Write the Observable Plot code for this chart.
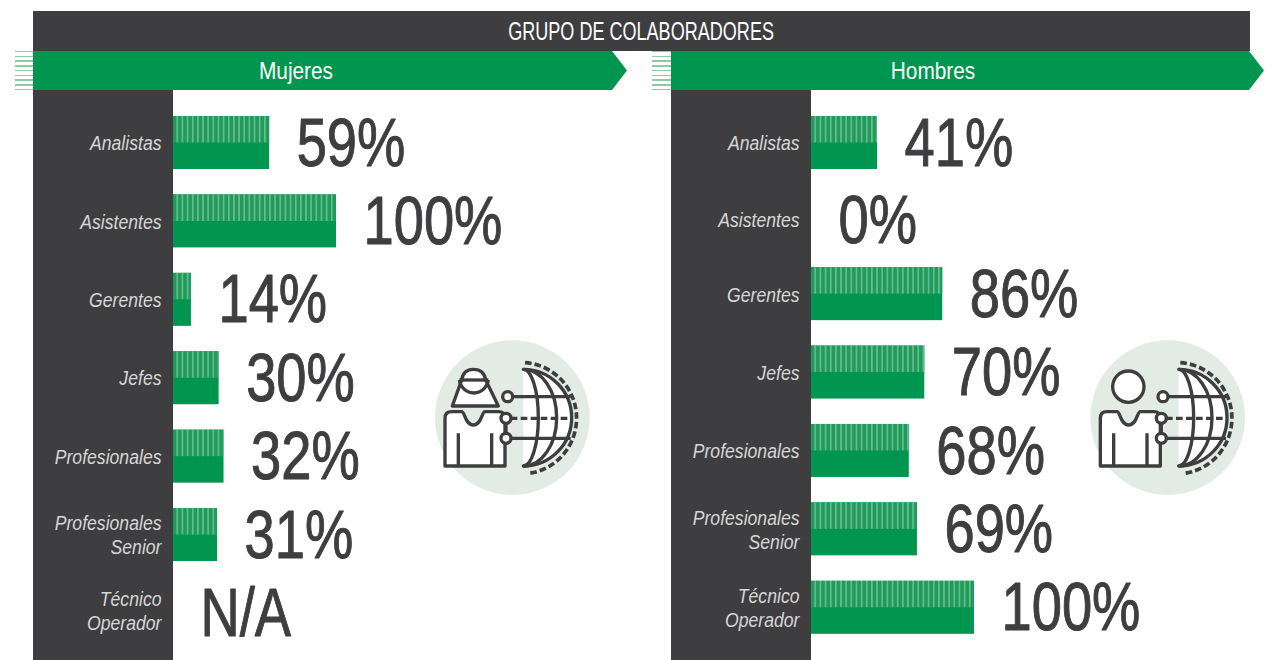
<!DOCTYPE html>
<html lang="es">
<head>
<meta charset="utf-8">
<script src="https://cdn.jsdelivr.net/npm/d3@7"></script>
<script src="https://cdn.jsdelivr.net/npm/@observablehq/plot@0.6"></script>
<style>
  html,body{margin:0;padding:0;background:#fff;}
  #page{position:relative;width:1276px;height:660px;overflow:hidden;font-family:"Liberation Sans",sans-serif;}
  .abs{position:absolute;}
  .dark{background:#3e3d3f;}
  .title{left:33px;top:11px;width:1217px;height:40px;color:#fff;font-size:25px;line-height:40px;text-align:center;}
  .title span{display:inline-block;transform:scaleX(.722);margin-left:-1px;white-space:nowrap;}
  .banner{top:51px;height:39px;background:#00964f;color:#fff;font-size:24.5px;line-height:40px;clip-path:polygon(0 0,calc(100% - 15px) 0,100% 50%,calc(100% - 15px) 100%,0 100%);}
  .banner span{position:absolute;transform:translateX(-50%) scaleX(.85);}
  .ticks{top:51px;width:19px;height:39px;background:repeating-linear-gradient(to bottom,#8fc9a6 0,#8fc9a6 1.5px,#fff 1.5px,#fff 4.75px);}
  .side{top:90px;width:140px;height:570px;}
  .plot{top:0;}
</style>
</head>
<body>
<div id="page">
  <div class="abs dark title"><span>GRUPO DE COLABORADORES</span></div>
  <div class="abs ticks" style="left:15px"></div>
  <div class="abs ticks" style="left:652px"></div>
  <div class="abs banner" style="left:33px;width:594px"><span style="left:262.5px">Mujeres</span></div>
  <div class="abs banner" style="left:671px;width:593px"><span style="left:261.5px">Hombres</span></div>
  <div class="abs dark side" style="left:33px"></div>
  <div class="abs dark side" style="left:671px"></div>
</div>
<script>
const categorias = ["Analistas","Asistentes","Gerentes","Jefes","Profesionales","Profesionales\nSenior","Técnico\nOperador"];
const barrasMujeres = [59,100,11,28,31,27,null];
const etiquetasMujeres = ["59%","100%","14%","30%","32%","31%","N/A"];
const barrasHombres = [40.5,0,80.5,69.5,60,65,100];
const etiquetasHombres = ["41%","0%","86%","70%","68%","69%","100%"];

const GREEN = "#00964f", DARK = "#3e3d3f", FONT = '"Liberation Sans",sans-serif';

function panel(left, barras, etiquetas, id, grupos) {
  const datos = categorias.map((c,i)=>({c, v:barras[i], t:etiquetas[i]}));
  const layers = grupos.flatMap(({cats,dy,dyLabel})=>{
    const sub = datos.filter(d=>cats.includes(d.c));
    const conBarra = sub.filter(d=>d.v);
    return [
      Plot.barX(conBarra,{x:"v",y:"c",fill:GREEN,dy}),
      Plot.barX(conBarra,{x:"v",y:"c",fill:`url(#${id})`,insetBottom:26.5,dy}),
      Plot.text(sub,{x:d=>d.v??0,y:"c",text:"t",dx:27,dy:dy+0.5,textAnchor:"start",lineAnchor:"middle",fontSize:69,fontFamily:FONT,fill:DARK,stroke:DARK,strokeWidth:1,className:"valor"}),
      ...dyLabel.map(([lc,ldy])=>Plot.axisY(lc,{anchor:"left",tickSize:0,tickPadding:12,dy:ldy,label:null,fontSize:21,fontStyle:"italic",fontFamily:FONT,fill:"#d6d6d6",lineHeight:1.14,stroke:null,tickFormat:d=>d,className:"cat"}))
    ];
  });
  const p = Plot.plot({
    width:638,height:660,marginLeft:173,marginRight:0,marginTop:0,marginBottom:0,
    style:{background:"transparent",overflow:"visible"},
    x:{axis:null,domain:[0,100],range:[173,336]},
    y:{axis:null,type:"band",domain:categorias,range:[90.6,664.9],padding:0.324,round:false},
    marks:layers
  });
  const ns="http://www.w3.org/2000/svg";
  const defs=document.createElementNS(ns,"defs");
  defs.innerHTML=`<pattern id="${id}" patternUnits="userSpaceOnUse" width="5.15" height="10" x="173"><rect width="5.15" height="10" fill="#1f9c5b"/><rect x="3.6" width="1.3" height="10" fill="#7cc49c"/></pattern>`;
  p.insertBefore(defs,p.firstChild);
  // condensa el texto (la familia original es una Helvetica condensada)
  p.querySelectorAll("text").forEach(t=>{
    const esValor = parseFloat(t.getAttribute("font-size")||getComputedStyle(t).fontSize)>40 || t.closest(".valor");
    const k = esValor ? 0.787 : 0.84;
    t.setAttribute("transform",((t.getAttribute("transform")||"")+` scale(${k},1)`).trim());
  });
  p.classList.add("abs","plot");
  p.style.left=left+"px";
  document.getElementById("page").appendChild(p);
}

panel(0,barrasMujeres,etiquetasMujeres,"rayasM",[
  {cats:categorias,dy:0,dyLabel:[[categorias.slice(0,5),-0.5],[[categorias[5]],-1],[[categorias[6]],-3]]}
]);
panel(638,barrasHombres,etiquetasHombres,"rayasH",[
  {cats:categorias.slice(0,1),dy:0,dyLabel:[[categorias.slice(0,1),-0.5]]},
  {cats:categorias.slice(1,2),dy:-1.5,dyLabel:[[categorias.slice(1,2),-2]]},
  {cats:categorias.slice(2),dy:-5.7,dyLabel:[[categorias.slice(2,5),-6],[[categorias[5]],-6],[[categorias[6]],-6]]}
]);

function icono(left, mujer){
  const sx = mujer?0:16;
  const persona = mujer
   ? `<path fill="#fff" d="M97 228 L125 150 Q130 118 160 118 Q192 118 197 150 L235 228 Z"/><path d="M118 150 A44 46 0 0 0 205 150"/><path d="M118 150 H205"/>`
   : `<circle cx="${175-sx}" cy="170" r="47" fill="#fff"/>`;
  const svg = `<svg class="abs" style="left:${left}px;top:330px" width="190" height="180" viewBox="0 0 570 540" fill="none" stroke="#3e3d3f" stroke-width="10" stroke-linejoin="round" stroke-linecap="butt">
   <circle cx="${277+sx}" cy="263" r="232" fill="#e3ece4" stroke="none"/>
   <g transform="translate(${sx} 0)">
    <path fill="#fff" stroke="none" d="M310 118 A145 145 0 0 1 310 408Z"/>
    <path d="M277 200 H452 M272 325 H452"/>
    <path d="M272 265 H450" stroke-dasharray="20 10"/>
    <path d="M310 118 A145 145 0 0 1 310 408 A45 145 0 0 0 310 118Z"/>
    <path d="M310 118 A100 145 0 0 1 310 408"/>
    <path d="M315 98 A165 167 0 0 1 328 430" stroke-width="11" stroke-dasharray="20 9"/>
    ${persona}
    <path fill="#fff" d="M75 408 V265 Q75 245 95 245 H125 C135 245 135 285 160 285 C185 285 185 245 195 245 H235 Q255 245 255 265 V408 Z"/>
    <path d="M115 310 V408 M215 310 V408 M258 280 V310"/>
    <circle cx="263" cy="200" r="15" fill="#fff"/>
    <circle cx="258" cy="265" r="15" fill="#fff"/>
    <circle cx="258" cy="325" r="15" fill="#fff"/>
   </g></svg>`;
  document.getElementById("page").insertAdjacentHTML("beforeend",svg);
}
icono(420,true);
icono(1070,false);
</script>
</body>
</html>
